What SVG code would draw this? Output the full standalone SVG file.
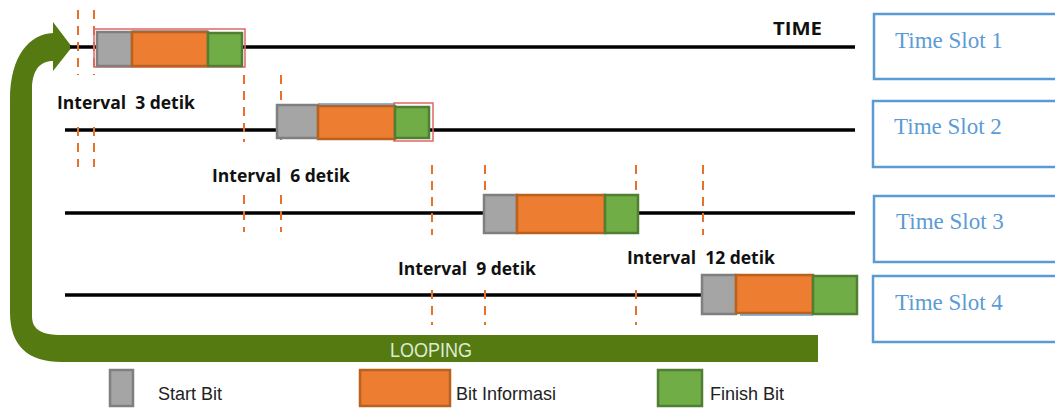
<svg xmlns="http://www.w3.org/2000/svg" width="1055" height="408" viewBox="0 0 1055 408">
<style>
.tl{stroke:#000;stroke-width:3.5;fill:none}
.dash{stroke:#E8702A;stroke-width:2;stroke-dasharray:9 7;fill:none}
.g{fill:#A5A5A5;stroke:#7F7F7F;stroke-width:2.5}
.o{fill:#ED7D31;stroke:#B9611F;stroke-width:2.5}
.f{fill:#70AD47;stroke:#507E32;stroke-width:2.5}
.rim{fill:none;stroke:#E06666;stroke-width:1.5}
.blu{stroke:#5B9BD5;stroke-width:1.5}
.lbl{font-family:"Open Sans","Liberation Sans",sans-serif;font-weight:700;font-size:17.5px;fill:#111}
.slot{fill:#fff;stroke:#5B9BD5;stroke-width:2.5}
.st{font-family:"Liberation Serif",serif;font-size:23px;fill:#5B9BD5}
.leg{font-family:"Liberation Sans",sans-serif;font-size:18px;fill:#222}
</style>

<g id="loop-arrow">
<path d="M72,47 L53,71 L53,61 C40,61 32,70 32,90 L32,316 C32,330 42,335 62,335 L818,335 L818,362 L62,362 C28,362 10,346 10,312 L10,100 C10,55 30,34 53,33 L53,22 Z" fill="#557A12"/>
<text x="431" y="357" text-anchor="middle" font-family="Liberation Sans,sans-serif" font-size="20" textLength="82" lengthAdjust="spacingAndGlyphs" fill="#DDEBD2">LOOPING</text>
</g>

<g id="connectors">
<line class="tl" x1="70" y1="47" x2="855" y2="47"/>
<line class="tl" x1="65" y1="130" x2="855" y2="130"/>
<line class="tl" x1="65" y1="213" x2="855" y2="213"/>
<line class="tl" x1="65" y1="295" x2="703" y2="295"/>
<path class="dash" d="M78,10V75M78,127V167M94,10V75M94,127V167M244,75V142M244,195V232M281,75V140M281,195V232M432,165V235M432,290V325M485,165V198M485,290V325M636,165V198M636,290V325M703,165V235M703,290V322"/>
</g>

<g id="packet1">
<rect class="rim" x="94" y="29" width="151" height="38"/>
<line class="blu" x1="132" y1="31" x2="208" y2="31"/>
<rect class="g" x="97" y="32" width="35" height="34"/>
<rect class="o" x="132" y="32" width="76" height="34"/>
<rect class="f" x="208" y="33" width="34" height="33"/>
</g>

<g id="packet2">
<rect class="rim" x="394" y="103" width="39" height="38"/>
<line class="blu" x1="318" y1="104" x2="395" y2="104"/>
<rect class="g" x="277" y="105" width="41" height="33"/>
<rect class="o" x="318" y="106" width="77" height="33"/>
<rect class="f" x="395" y="107" width="34" height="31"/>
</g>

<g id="packet3">
<rect class="g" x="484" y="195" width="33" height="38"/>
<rect class="o" x="517" y="195" width="88" height="38"/>
<rect class="f" x="605" y="195" width="33" height="38"/>
</g>

<g id="packet4">
<line class="blu" x1="740" y1="315" x2="813" y2="315"/>
<rect class="g" x="702" y="275" width="34" height="39"/>
<rect class="o" x="736" y="275" width="77" height="38"/>
<rect class="f" x="813" y="276" width="44" height="38"/>
</g>

<g id="labels">
<text class="lbl" x="773" y="35" font-size="21" textLength="49" lengthAdjust="spacingAndGlyphs">TIME</text>
<text class="lbl" x="57" y="109" xml:space="preserve">Interval  3 detik</text>
<text class="lbl" x="212" y="182" xml:space="preserve">Interval  6 detik</text>
<text class="lbl" x="398" y="275" xml:space="preserve">Interval  9 detik</text>
<text class="lbl" x="627" y="264" xml:space="preserve">Interval  12 detik</text>
</g>

<g id="slot1"><rect class="slot" x="874" y="14" width="190" height="65"/><text class="st" x="895" y="48">Time Slot 1</text></g>
<g id="slot2"><rect class="slot" x="873" y="101" width="190" height="66"/><text class="st" x="894" y="134">Time Slot 2</text></g>
<g id="slot3"><rect class="slot" x="874" y="196" width="190" height="66"/><text class="st" x="896" y="229">Time Slot 3</text></g>
<g id="slot4"><rect class="slot" x="873" y="276" width="190" height="66"/><text class="st" x="895" y="310">Time Slot 4</text></g>

<g id="legend-start"><rect class="g" x="110" y="370" width="23" height="36"/><text class="leg" x="158" y="400">Start Bit</text></g>
<g id="legend-info"><rect class="o" x="360" y="370" width="90" height="36"/><text class="leg" x="456" y="400">Bit Informasi</text></g>
<g id="legend-finish"><rect class="f" x="658" y="370" width="44" height="36"/><text class="leg" x="710" y="400">Finish Bit</text></g>
</svg>
